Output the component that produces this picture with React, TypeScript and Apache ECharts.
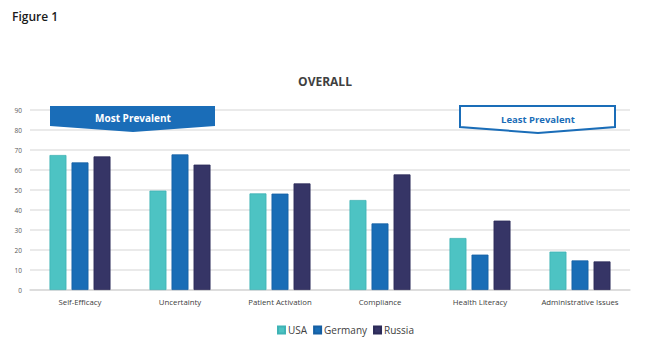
import React, { useEffect, useRef } from "react";
import * as echarts from "echarts";

const categories = ["Self-Efficacy", "Uncertainty", "Patient Activation", "Compliance", "Health Literacy", "Administrative Issues"];
const usa = [67.5, 49.7, 48.3, 45, 26, 19.2];
const germany = [63.8, 67.8, 48.2, 33.3, 17.7, 14.8];
const russia = [66.8, 62.7, 53.3, 57.8, 34.7, 14.3];
const seriesNames = ["USA", "Germany", "Russia"];
const colors = ["#4DC3C3", "#196DB6", "#363566"];
const borderColors = ["#3FB3B5", "#155FA3", "#2C2B58"];

export default function App() {
  const ref = useRef<HTMLDivElement>(null);
  useEffect(() => {
    if (!ref.current) return;
    const chart = echarts.init(ref.current, undefined, { renderer: "svg" });
    const font = "'Open Sans', 'Noto Sans', sans-serif";
    const data = [usa, germany, russia];
    chart.setOption({
      animation: false,
      backgroundColor: "#ffffff",
      textStyle: { fontFamily: font },
      title: {
        text: "OVERALL",
        left: 320,
        top: 70,
        textAlign: "center",
        textStyle: { fontSize: 12, fontWeight: "bold", color: "#404040", fontFamily: font },
      },
      legend: {
        data: seriesNames,
        bottom: 12,
        left: 272,
        itemWidth: 7,
        itemHeight: 7,
        itemGap: 6,
        icon: "rect",
        textStyle: { fontSize: 10, color: "#404040", fontFamily: font, padding: [0, 0, 0, -2] },
      },
      grid: { left: 30, right: 20, top: 110, bottom: 62, containLabel: false },
      xAxis: {
        type: "category",
        data: categories,
        axisLine: { lineStyle: { color: "#d9d9d9", width: 1.5 } },
        axisTick: { show: false },
        axisLabel: { fontSize: 7.8, color: "#404040", margin: 8, fontFamily: font, interval: 0 },
      },
      yAxis: {
        type: "value",
        min: 0,
        max: 90,
        interval: 10,
        axisLine: { show: false },
        axisTick: { show: false },
        axisLabel: { fontSize: 6.5, color: "#595959", margin: 8, fontFamily: font },
        splitLine: { lineStyle: { color: "#e3e3e3", width: 1.5 } },
      },
      series: seriesNames.map((name, i) => ({
        name,
        type: "bar",
        data: data[i],
        barGap: "30%",
        barCategoryGap: "39%",
        itemStyle: { color: colors[i], borderColor: borderColors[i], borderWidth: 0.8 },
      })),
      graphic: [
        {
          type: "polygon",
          z: 100,
          shape: { points: [[50, 106], [215, 106], [215, 126], [133, 132], [50, 126]] },
          style: { fill: "#1A6DB8" },
        },
        {
          type: "text",
          z: 101,
          x: 133,
          y: 118,
          style: {
            text: "Most Prevalent",
            fill: "#ffffff",
            font: "bold 10px " + font,
            textAlign: "center",
            textVerticalAlign: "middle",
          },
        },
        {
          type: "polygon",
          z: 100,
          shape: { points: [[460, 106], [615, 106], [615, 127], [538, 133], [460, 127]] },
          style: { fill: "#ffffff", stroke: "#1A6DB8", lineWidth: 2 },
        },
        {
          type: "text",
          z: 101,
          x: 538,
          y: 119,
          style: {
            text: "Least Prevalent",
            fill: "#1A6DB8",
            font: "bold 9.5px " + font,
            textAlign: "center",
            textVerticalAlign: "middle",
          },
        },
        {
          type: "text",
          z: 101,
          x: 12,
          y: 10,
          style: { text: "Figure 1", fill: "#1a1a1a", font: "600 12px " + font },
        },
      ],
    });
    return () => chart.dispose();
  }, []);
  return <div ref={ref} style={{ width: 650, height: 352, position: "absolute", left: 0, top: 0 }} />;
}
